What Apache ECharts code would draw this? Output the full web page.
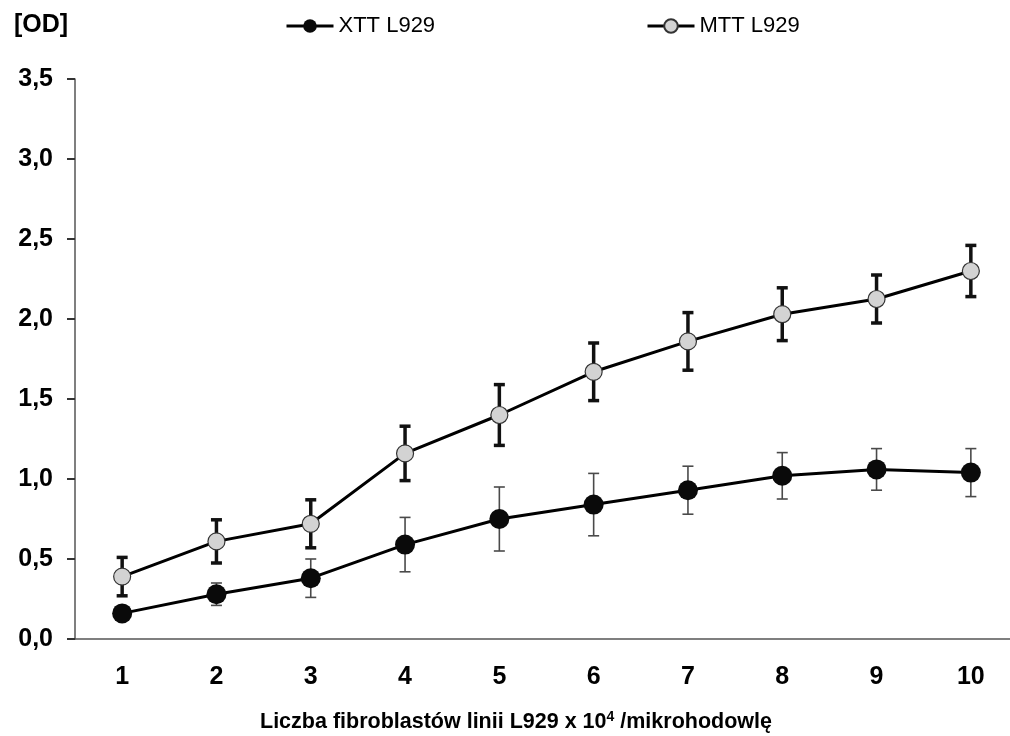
<!DOCTYPE html>
<html>
<head>
<meta charset="utf-8">
<script src="https://cdn.jsdelivr.net/npm/echarts@6/dist/echarts.min.js"></script>
<style>
  html, body { margin: 0; padding: 0; background: #fff; }
  #chart { width: 1010px; height: 736px; }
</style>
</head>
<body>
<div id="chart"></div>
<script>
// dane
var categories = ['1', '2', '3', '4', '5', '6', '7', '8', '9', '10'];
var xttValues = [0.16, 0.28, 0.38, 0.59, 0.75, 0.84, 0.93, 1.02, 1.06, 1.04];
var xttErrors = [0.02, 0.07, 0.12, 0.17, 0.20, 0.195, 0.15, 0.145, 0.13, 0.15];
var mttValues = [0.39, 0.61, 0.72, 1.16, 1.40, 1.67, 1.86, 2.03, 2.125, 2.30];
var mttErrors = [0.12, 0.135, 0.15, 0.17, 0.19, 0.18, 0.18, 0.165, 0.15, 0.16];

var FONT = "'Liberation Sans', Arial, sans-serif";

function errData(vals, errs) {
	var data = [];
	for (var i = 0; i < vals.length; i++) {
		data.push([i, vals[i] - errs[i], vals[i] + errs[i]]);
	}
	return data;
}

function errRender(color, width) {
	return function(params, api) {
		var lo = api.coord([api.value(0), api.value(1)]);
		var hi = api.coord([api.value(0), api.value(2)]);
		var half = 5.5;
		var style = { stroke: color, lineWidth: width };
		return {
			type: 'group',
			children: [
				{ type: 'line', shape: { x1: hi[0], y1: hi[1], x2: lo[0], y2: lo[1] }, style: style },
				{ type: 'line', shape: { x1: hi[0] - half, y1: hi[1], x2: hi[0] + half, y2: hi[1] }, style: style },
				{ type: 'line', shape: { x1: lo[0] - half, y1: lo[1], x2: lo[0] + half, y2: lo[1] }, style: style }
			]
		};
	};
}

var chart = echarts.init(document.getElementById('chart'));
chart.setOption({
	backgroundColor: '#fff',
	animation: false,
	textStyle: { fontFamily: FONT },
	title: [{
		text: '[OD]',
		left: 14,
		top: 13,
		padding: 0,
		textStyle: { fontFamily: FONT, fontSize: 25, fontWeight: 'bold', color: '#000' }
	}, {
		text: 'Liczba fibroblastów linii L929 x 10{sup|4} /mikrohodowlę',
		left: 260,
		top: 710,
		padding: 0,
		textStyle: {
			fontFamily: FONT, fontSize: 21.5, fontWeight: 'bold', color: '#000',
			rich: {
				sup: { fontFamily: FONT, fontSize: 14, fontWeight: 'bold', color: '#000', verticalAlign: 'top', padding: [0, 0, 11, 0] }
			}
		}
	}],
	legend: [{
		data: ['XTT L929'],
		left: 285,
		top: 15,
		padding: 0,
		itemWidth: 47,
		itemHeight: 17,
		lineStyle: { width: 3 },
		textStyle: { fontFamily: FONT, fontSize: 22, color: '#000' }
	}, {
		data: ['MTT L929'],
		left: 646,
		top: 15,
		padding: 0,
		itemWidth: 47,
		itemHeight: 17,
		lineStyle: { width: 3 },
		textStyle: { fontFamily: FONT, fontSize: 22, color: '#000' }
	}],
	grid: {
		left: 75,
		top: 79,
		width: 943,
		height: 560,
		containLabel: false,
		outerBoundsMode: 'none'
	},
	xAxis: {
		type: 'category',
		data: categories,
		boundaryGap: true,
		axisLine: { lineStyle: { color: '#555', width: 1.5 } },
		axisTick: { show: false },
		axisLabel: { margin: 26, fontFamily: FONT, fontSize: 25, fontWeight: 'bold', color: '#000' },
		splitLine: { show: false }
	},
	yAxis: {
		type: 'value',
		min: 0,
		max: 3.5,
		interval: 0.5,
		axisLine: { show: true, lineStyle: { color: '#555', width: 1.5 } },
		axisTick: { show: true, length: 8, lineStyle: { color: '#333', width: 2 } },
		axisLabel: {
			margin: 22,
			fontFamily: FONT, fontSize: 25, fontWeight: 'bold', color: '#000',
			formatter: function(v) { return v.toFixed(1).replace('.', ','); }
		},
		splitLine: { show: false }
	},
	series: [{
		name: 'XTT err',
		type: 'custom',
		renderItem: errRender('#4a4a4a', 1.6),
		data: errData(xttValues, xttErrors),
		z: 1,
		silent: true
	}, {
		name: 'MTT err',
		type: 'custom',
		renderItem: errRender('#111', 3.5),
		data: errData(mttValues, mttErrors),
		z: 1,
		silent: true
	}, {
		name: 'XTT L929',
		type: 'line',
		data: xttValues,
		symbol: 'circle',
		symbolSize: 20,
		lineStyle: { color: '#000', width: 3 },
		itemStyle: { color: '#0a0a0a', borderColor: '#0a0a0a', borderWidth: 0 },
		z: 3
	}, {
		name: 'MTT L929',
		type: 'line',
		data: mttValues,
		symbol: 'circle',
		symbolSize: 17,
		lineStyle: { color: '#000', width: 3 },
		itemStyle: { color: '#d3d3d3', borderColor: '#333', borderWidth: 1.2 },
		z: 3
	}]
});
</script>
</body>
</html>
